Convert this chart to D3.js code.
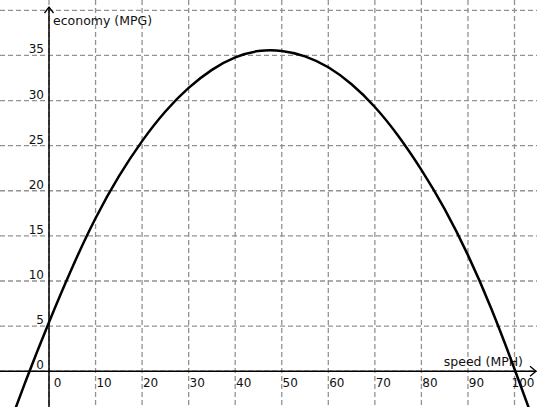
<!DOCTYPE html>
<html>
<head>
<meta charset="utf-8">
<script src="https://cdn.jsdelivr.net/npm/d3@7"></script>
<style>
  body { margin: 0; background: #fff; }
  text { font-family: "DejaVu Sans", sans-serif; font-size: 12px; fill: #111; }
</style>
</head>
<body>
<div id="chart"></div>
<script>
// values
let speed   = [-10, -5, 0, 5, 10, 15, 20, 25, 30, 35, 40, 45, 50, 55, 60, 65, 70, 75, 80, 85, 90, 95, 100, 105];
let economy = [-8.0, -1.0, 5.5, 11.6, 17.1, 21.7, 25.6, 28.9, 31.5, 33.5, 34.9, 35.6, 35.6, 35.0, 33.8, 31.9, 29.4, 26.2, 22.4, 18.1, 13.0, 7.1, 0.3, -6.8];

let xTicks = [0, 10, 20, 30, 40, 50, 60, 70, 80, 90, 100];
let yTicks = [0, 5, 10, 15, 20, 25, 30, 35];
let yGrid  = [0, 5, 10, 15, 20, 25, 30, 35, 40];

let width = 537;
let height = 407;

let svg = d3.select("#chart")
    .append("svg")
    .attr("width", width)
    .attr("height", height);

let x = d3.scaleLinear()
    .domain([0, 100])
    .range([49, 514.5]);

let y = d3.scaleLinear()
    .domain([0, 40])
    .range([371.2, 10.3]);

// dashed grid
svg.append("g")
    .selectAll("line")
    .data(xTicks)
    .enter()
    .append("line")
    .attr("x1", d => x(d))
    .attr("x2", d => x(d))
    .attr("y1", 0)
    .attr("y2", height)
    .attr("stroke", "#929292")
    .attr("stroke-width", 1.3)
    .attr("stroke-dasharray", "5,3");

svg.append("g")
    .selectAll("line")
    .data(yGrid)
    .enter()
    .append("line")
    .attr("x1", 0)
    .attr("x2", width)
    .attr("y1", d => y(d))
    .attr("y2", d => y(d))
    .attr("stroke", "#929292")
    .attr("stroke-width", 1.3)
    .attr("stroke-dasharray", "5,3");

// axes
let x0 = x(0), y0 = y(0);

svg.append("line")
    .attr("x1", 0).attr("x2", width - 1)
    .attr("y1", y0).attr("y2", y0)
    .attr("stroke", "#000").attr("stroke-width", 1.5);

svg.append("path")
    .attr("d", `M${width - 7},${y0 - 5}L${width - 1},${y0}L${width - 7},${y0 + 5}`)
    .attr("fill", "none").attr("stroke", "#000").attr("stroke-width", 1.3);

svg.append("line")
    .attr("x1", x0).attr("x2", x0)
    .attr("y1", 7).attr("y2", height)
    .attr("stroke", "#000").attr("stroke-width", 1.5);

svg.append("path")
    .attr("d", `M${x0 - 4.5},${13}L${x0},${7}L${x0 + 4.5},${13}`)
    .attr("fill", "none").attr("stroke", "#000").attr("stroke-width", 1.3);

// tick labels
svg.append("g")
    .selectAll("text")
    .data(xTicks)
    .enter()
    .append("text")
    .attr("x", d => x(d) + 8.5)
    .attr("y", y0 + 16)
    .attr("text-anchor", "middle")
    .text(d => d);

svg.append("g")
    .selectAll("text")
    .data(yTicks)
    .enter()
    .append("text")
    .attr("x", x0 - 5)
    .attr("y", d => y(d) - 2)
    .attr("text-anchor", "end")
    .text(d => d);

// axis titles
svg.append("text")
    .attr("x", x0 + 4)
    .attr("y", 25)
    .style("font-size", "12.5px")
    .text("economy (MPG)");

svg.append("text")
    .attr("x", 523)
    .attr("y", y0 - 5)
    .attr("text-anchor", "end")
    .style("font-size", "12.5px")
    .text("speed (MPH)");

// curve (basis spline smooths the read-off points)
let line = d3.line()
    .x((d, i) => x(d))
    .y((d, i) => y(economy[i]))
    .curve(d3.curveBasis);

svg.append("path")
    .datum(speed)
    .attr("d", line)
    .attr("fill", "none")
    .attr("stroke", "#000")
    .attr("stroke-width", 2.5);
</script>
</body>
</html>
